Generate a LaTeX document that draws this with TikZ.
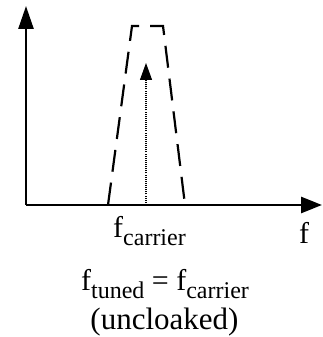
\documentclass[tikz,border=0pt]{standalone}
\usepackage{fontspec}
\setmainfont{Liberation Serif}
\usetikzlibrary{arrows.meta}
\newcommand\mysubtext[1]{\raisebox{-7.5pt}{\fontsize{24}{26}\selectfont #1}}
\begin{document}
\begin{tikzpicture}[x=1pt,y=1pt,
  axis/.style={line width=2.6pt},
  band/.style={line width=2.2pt,dash pattern=on 22pt off 11pt,dash phase=32.4pt},
  carrier/.style={line width=1.1pt,dash pattern=on 1pt off 1.1pt,-{Triangle[length=17pt,width=12pt]}},
  lbl/.style={inner sep=0pt,anchor=base,font=\fontsize{30}{34}\selectfont}]
\useasboundingbox (0,0) rectangle (323,337);
\coordinate (o) at (26,132);
\coordinate (ytip) at (26,331);
\coordinate (xtip) at (322,132);
\coordinate (b1) at (108,132);
\coordinate (t1) at (132,311);
\coordinate (t2) at (163,311);
\coordinate (b2) at (185,132);
\coordinate (cb) at (146,132);
\coordinate (ct) at (146,274);
\draw[band] (b1) -- (t1) -- (t2) -- (b2);
\draw[carrier] (cb) -- (ct);
\draw[axis,-{Triangle[length=23pt,width=15pt]}] (o) -- (ytip);
\draw[axis,-{Triangle[length=21pt,width=16pt]}] (o) -- (xtip);
\node[lbl] (fc) at (149.5,99) {f\mysubtext{carrier}};
\node[lbl] (f) at (304,93) {f};
\node[lbl] (eq) at (165,46) {f\mysubtext{tuned} = f\mysubtext{carrier}};
\node[lbl,font=\fontsize{31}{34}\selectfont] (unc) at (164.5,8) {(uncloaked)};
\end{tikzpicture}
\end{document}
